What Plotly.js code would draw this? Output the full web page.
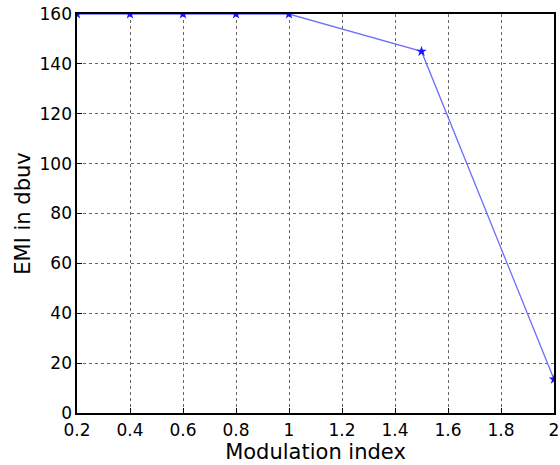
<!DOCTYPE html>
<html>
<head>
<meta charset="utf-8">
<script src="https://cdn.plot.ly/plotly-3.0.1.min.js"></script>
<style>html,body{margin:0;padding:0;background:#fff;}#chart{width:560px;height:465px;}</style>
</head>
<body>
<div id="chart"></div>
<script>
const modulationIndex = [0.2, 0.4, 0.6, 0.8, 1.0, 1.5, 2.0];
const emiDbuv = [160, 160, 160, 160, 160, 145, 13.5];
const xTicks = [0.2, 0.4, 0.6, 0.8, 1, 1.2, 1.4, 1.6, 1.8, 2];
const xTickLabels = ['0.2', '0.4', '0.6', '0.8', '1', '1.2', '1.4', '1.6', '1.8', '2'];
const yTicks = [0, 20, 40, 60, 80, 100, 120, 140, 160];

const FONT = 'DejaVu Sans, Verdana, sans-serif';

const trace = {
  x: modulationIndex,
  y: emiDbuv,
  type: 'scatter',
  mode: 'lines+markers',
  line: {color: 'rgb(110,110,255)', width: 1.3},
  marker: {symbol: 'star', size: 8, color: 'rgb(20,20,255)'},
  hoverinfo: 'none'
};

const axisCommon = {
  showline: true, linecolor: '#000', linewidth: 1.6, mirror: true,
  ticks: 'inside', ticklen: 5, tickcolor: '#000',
  showgrid: true, gridcolor: '#666', griddash: 'dot', gridwidth: 1,
  zeroline: false,
  tickfont: {family: FONT, size: 17, color: '#000'}
};

const layout = {
  width: 560, height: 465,
  margin: {l: 77, r: 6, t: 14, b: 52},
  paper_bgcolor: '#fff', plot_bgcolor: '#fff',
  showlegend: false,
  xaxis: Object.assign({}, axisCommon, {
    range: [0.2, 2], tickvals: xTicks, ticktext: xTickLabels,
    ticklabelstandoff: 1,
    title: {text: 'Modulation index', font: {family: FONT, size: 21, color: '#000'}, standoff: 0}
  }),
  yaxis: Object.assign({}, axisCommon, {
    range: [0, 160], tickvals: yTicks,
    title: {text: 'EMI in dbuv', font: {family: FONT, size: 21, color: '#000'}, standoff: 3}
  })
};

Plotly.newPlot('chart', [trace], layout, {displayModeBar: false, staticPlot: true});
</script>
</body>
</html>
